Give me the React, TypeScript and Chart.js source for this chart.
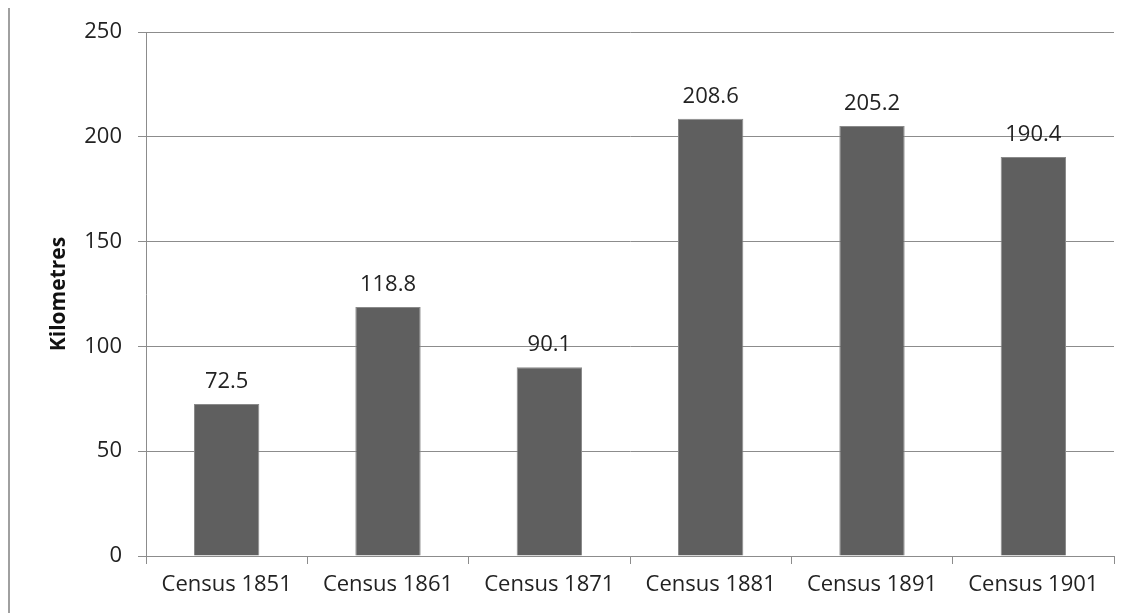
import React, { useEffect, useRef } from "react";
import { Chart, registerables } from "chart.js";

Chart.register(...registerables);

const categories = ["Census 1851", "Census 1861", "Census 1871", "Census 1881", "Census 1891", "Census 1901"];
const kilometres = [72.5, 118.8, 90.1, 208.6, 205.2, 190.4];
const valueLabels = ["72.5", "118.8", "90.1", "208.6", "205.2", "190.4"];

const FONT = "'Open Sans', 'Noto Sans', sans-serif";

const labelPlugin = {
  id: "valueLabels",
  afterDatasetsDraw(chart: any) {
    const ctx = chart.ctx;
    const meta = chart.getDatasetMeta(0);
    ctx.save();
    ctx.font = `22px ${FONT}`;
    ctx.fillStyle = "#222";
    ctx.textAlign = "center";
    ctx.textBaseline = "alphabetic";
    meta.data.forEach((bar: any, i: number) => {
      ctx.fillText(valueLabels[i], bar.x, bar.y - 16);
    });
    ctx.restore();
  },
};

export default function App() {
  const ref = useRef<HTMLCanvasElement | null>(null);
  useEffect(() => {
    if (!ref.current) return;
    const chart = new Chart(ref.current, {
      type: "bar",
      data: {
        labels: categories,
        datasets: [
          {
            data: kilometres,
            backgroundColor: "#5f5f5f",
            borderColor: "#8a8a8a",
            borderWidth: 1,
            categoryPercentage: 1,
            barPercentage: 0.405,
          },
        ],
      },
      options: {
        animation: false,
        responsive: false,
        maintainAspectRatio: false,
        layout: { padding: { left: 0, right: 23, top: 32, bottom: 0 } },
        plugins: { legend: { display: false }, tooltip: { enabled: false } },
        scales: {
          x: {
            offset: true,
            grid: { display: true, drawOnChartArea: false, drawTicks: true, tickLength: 8, color: "#8c8c8c", offset: true },
            border: { display: true, color: "#8c8c8c" },
            ticks: { font: { family: FONT, size: 22 }, color: "#222", padding: 8, maxRotation: 0, autoSkip: false },
            afterFit: (s: any) => { s.height = 57; },
          },
          y: {
            min: 0,
            max: 250,
            grid: { color: "#8c8c8c", drawTicks: true, tickLength: 8 },
            border: { display: true, color: "#8c8c8c" },
            ticks: { stepSize: 50, font: { family: FONT, size: 22 }, color: "#222", padding: 16 },
            title: { display: true, text: "Kilometres", font: { family: FONT, size: 21, weight: "bold" }, color: "#111", padding: { top: 46, bottom: 0 } },
            afterFit: (s: any) => { s.width = 146; },
          },
        },
      },
      plugins: [labelPlugin],
    });
    return () => chart.destroy();
  }, []);
  return (
    <div style={{ position: "fixed", left: 0, top: 0, width: 1137, height: 613, background: "#fff" }}>
      <div style={{ position: "absolute", left: 8, top: 8, width: 2, height: 605, background: "#a0a0a0" }} />
      <canvas ref={ref} width={1137} height={613} style={{ position: "absolute", left: 0, top: 0 }} />
    </div>
  );
}
